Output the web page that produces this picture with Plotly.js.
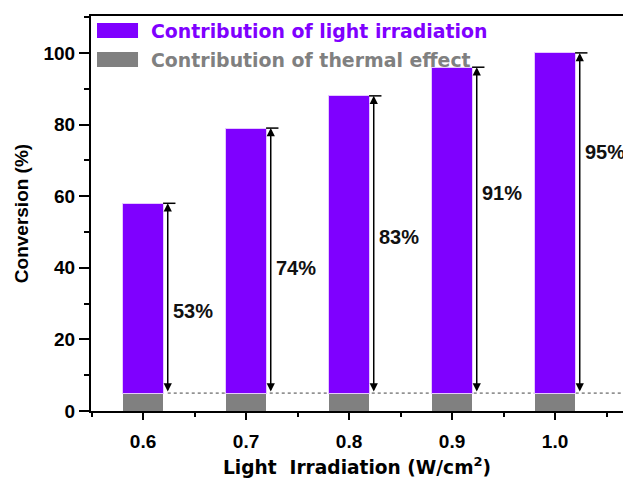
<!DOCTYPE html>
<html>
<head>
<meta charset="utf-8">
<script src="https://cdn.plot.ly/plotly-3.0.1.min.js"></script>
<style>html,body{margin:0;padding:0;background:#fff;}#chart{width:623px;height:479px;}</style>
</head>
<body>
<div id="chart"></div>
<script>
// ---- data ----
var irradiation = [0.6, 0.7, 0.8, 0.9, 1.0];
var thermal = [5, 5, 5, 5, 5];
var light = [53, 74, 83, 91, 95];
var labels = ['53%', '74%', '83%', '91%', '95%'];
var xTickVals = [0.6, 0.7, 0.8, 0.9, 1.0];
var xTickText = ['0.6', '0.7', '0.8', '0.9', '1.0'];
var yTickVals = [0, 20, 40, 60, 80, 100];

// ---- style ----
var PURPLE = '#7F00FF';
var GRAY = '#808080';
var barW = 0.039;
var arrowOff = barW / 2 + 0.0045;
var capOff = barW / 2 + 0.012;
var labelOff = arrowOff + 0.003;
var labelHeights = [28, 40, 48.5, 61, 72.3];
var arialB = 'Liberation Sans, Arial, sans-serif';
var wideB = 'DejaVu Sans, sans-serif';

var totals = irradiation.map(function (_, i) { return thermal[i] + light[i]; });

var traces = [
  { type: 'bar', x: irradiation, y: thermal, width: barW, name: 'Contribution of thermal effect',
    marker: { color: GRAY, line: { width: 0 } }, hoverinfo: 'skip' },
  { type: 'bar', x: irradiation, y: light, width: barW, name: 'Contribution of light irradiation',
    marker: { color: PURPLE, line: { color: '#E6C8FF', width: 1 } }, hoverinfo: 'skip' }
];

var annotations = [];
var shapes = [];
irradiation.forEach(function (x, i) {
  annotations.push({
    x: x + arrowOff, y: totals[i], ax: x + arrowOff, ay: thermal[i],
    xref: 'x', yref: 'y', axref: 'x', ayref: 'y',
    text: '', showarrow: true, arrowhead: 2, startarrowhead: 2, arrowside: 'end+start',
    arrowsize: 1.1, startarrowsize: 1.1, arrowwidth: 1.5, arrowcolor: '#000', standoff: 0, startstandoff: 0
  });
  annotations.push({
    x: x + labelOff, y: labelHeights[i], xref: 'x', yref: 'y', xanchor: 'left', yanchor: 'middle',
    text: '<b>' + labels[i] + '</b>', showarrow: false,
    font: { family: arialB, size: 20, color: '#111' }
  });
  shapes.push({
    type: 'line', xref: 'x', yref: 'y', x0: x + barW / 2, x1: x + capOff, y0: totals[i], y1: totals[i],
    line: { color: '#000', width: 1.5 }
  });
});
// dotted baseline at thermal level
shapes.push({
  type: 'line', xref: 'x', yref: 'y', x0: irradiation[0] + arrowOff, x1: 1.07, y0: thermal[0], y1: thermal[0],
  line: { color: '#444', width: 1, dash: 'dot' }, layer: 'below'
});
// legend boxes
shapes.push({ type: 'rect', xref: 'paper', yref: 'paper', x0: 0.0113, x1: 0.0884, y0: 0.944, y1: 0.982,
  fillcolor: PURPLE, line: { width: 0 } });
shapes.push({ type: 'rect', xref: 'paper', yref: 'paper', x0: 0.0113, x1: 0.0884, y0: 0.871, y1: 0.909,
  fillcolor: GRAY, line: { width: 0 } });
annotations.push({ xref: 'paper', yref: 'paper', x: 0.1090, y: 0.962, xanchor: 'left', yanchor: 'middle',
  text: '<b>Contribution of light irradiation</b>', showarrow: false,
  font: { family: wideB, size: 18.9, color: PURPLE } });
annotations.push({ xref: 'paper', yref: 'paper', x: 0.1090, y: 0.889, xanchor: 'left', yanchor: 'middle',
  text: '<b>Contribution of thermal effect</b>', showarrow: false,
  font: { family: wideB, size: 18.9, color: GRAY } });

var layout = {
  width: 623, height: 479,
  margin: { l: 91, r: 0, t: 16, b: 68 },
  paper_bgcolor: '#fff', plot_bgcolor: '#fff',
  barmode: 'stack', showlegend: false,
  xaxis: {
    range: [0.5495, 1.066], tickvals: xTickVals, ticktext: xTickText,
    showline: true, linewidth: 2, linecolor: '#000', mirror: true,
    ticks: 'outside', ticklen: 7, tickwidth: 2, tickcolor: '#000',
    minor: { dtick: 0.1, tick0: 0.55, ticks: 'outside', ticklen: 4, tickwidth: 2, tickcolor: '#000', showgrid: false },
    showgrid: false, zeroline: false, ticklabelstandoff: 5,
    tickfont: { family: arialB, size: 19, color: '#000', weight: 'bold' },
    title: { text: '<b>Light  Irradiation (W/cm<sup>2</sup>)</b>', standoff: 10,
      font: { family: wideB, size: 18.6, color: '#000' } }
  },
  yaxis: {
    range: [0, 110.3], tickvals: yTickVals,
    showline: true, linewidth: 2, linecolor: '#000', mirror: false,
    ticks: 'outside', ticklen: 10, tickwidth: 2, tickcolor: '#000',
    minor: { dtick: 20, tick0: 10, ticks: 'outside', ticklen: 5, tickwidth: 2, tickcolor: '#000', showgrid: false },
    showgrid: false, zeroline: false,
    tickfont: { family: arialB, size: 19, color: '#000', weight: 'bold' },
    title: { text: '<b>Conversion (%)</b>', standoff: 10,
      font: { family: arialB, size: 19, color: '#000' } }
  },
  shapes: shapes,
  annotations: annotations
};

Plotly.newPlot('chart', traces, layout, { staticPlot: true, displayModeBar: false });
</script>
</body>
</html>
